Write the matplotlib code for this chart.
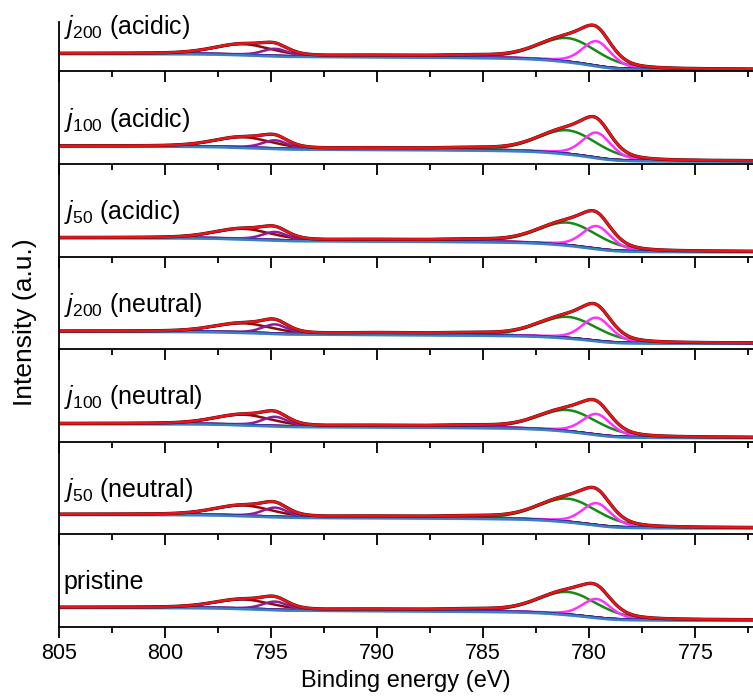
import numpy as np
import matplotlib
matplotlib.use("Agg")
import matplotlib.pyplot as plt
from matplotlib.ticker import MultipleLocator

plt.rcParams['font.family'] = ['Liberation Sans', 'DejaVu Sans']
plt.rcParams['mathtext.fontset'] = 'custom'
plt.rcParams['mathtext.rm'] = 'Liberation Sans'
plt.rcParams['mathtext.it'] = 'Liberation Sans:italic'

# panels from top to bottom
labels = [r'$j_{200}$ (acidic)', r'$j_{100}$ (acidic)', r'$j_{50}$ (acidic)',
          r'$j_{200}$ (neutral)', r'$j_{100}$ (neutral)', r'$j_{50}$ (neutral)',
          'pristine']

# fitted components: centre (eV), fwhm (eV)
green_pos, green_fwhm = 781.0, 3.3
magenta_pos, magenta_fwhm = 779.65, 1.6
darkred_pos, darkred_fwhm = 796.3, 3.2
purple_pos, purple_fwhm = 794.8, 1.4
sat1_pos, sat1_fwhm = 785.5, 3.0
sat2_pos, sat2_fwhm = 789.5, 5.0

# peak heights above background (a.u.), one value per panel
green_amp = [23.5, 23.5, 22.5, 21.0, 21.0, 23.0, 22.5]
magenta_amp = [24.5, 25.0, 22.5, 23.0, 20.5, 21.8, 18.5]
darkred_amp = [10.5, 10.0, 10.0, 9.0, 10.0, 10.0, 9.0]
purple_amp = [7.0, 8.0, 8.0, 9.0, 9.0, 9.0, 8.0]
sat1_amp = [1.5, 1.5, 1.5, 1.5, 1.5, 1.5, 1.5]
sat2_amp = [1.2, 1.2, 1.2, 1.5, 1.2, 1.2, 1.2]

# Shirley background: low-BE level and step heights
bg_low = [2.0, 3.0, 5.0, 6.0, 4.3, 6.6, 7.0]
step_main = [12.5, 11.5, 10.5, 8.5, 10.5, 10.0, 9.2]
step_sub = [3.5, 3.5, 3.5, 3.5, 3.5, 3.5, 3.5]

energy = np.linspace(772.0, 805.0, 1200)


def pvoigt(x, c, h, w, eta=0.3):
    g = np.exp(-4 * np.log(2) * ((x - c) / w) ** 2)
    l = 1 / (1 + 4 * ((x - c) / w) ** 2)
    return h * ((1 - eta) * g + eta * l)


def shirley(parts, step):
    s = np.cumsum(sum(parts))
    return step * s / s[-1]


W, H = 753, 698
left_px = 58.8
bottom0 = 627.0
panel_h = 92.6
top_px = 22.0

fig = plt.figure(figsize=(W / 100, H / 100), dpi=100)

n = len(labels)
for i in range(n):
    bot = bottom0 - (n - 1 - i) * panel_h
    top = bot - panel_h if i > 0 else top_px
    h = bot - top
    ax = fig.add_axes([left_px / W, 1 - bot / H, (W - left_px) / W, h / H])
    ax.set_facecolor('none')

    g = pvoigt(energy, green_pos, green_amp[i], green_fwhm)
    m = pvoigt(energy, magenta_pos, magenta_amp[i], magenta_fwhm)
    s1 = pvoigt(energy, sat1_pos, sat1_amp[i], sat1_fwhm)
    dr = pvoigt(energy, darkred_pos, darkred_amp[i], darkred_fwhm)
    p = pvoigt(energy, purple_pos, purple_amp[i], purple_fwhm)
    s2 = pvoigt(energy, sat2_pos, sat2_amp[i], sat2_fwhm)

    bg = bg_low[i] + shirley([g, m, s1], step_main[i]) + shirley([dr, p, s2], step_sub[i])
    total = bg + g + m + s1 + dr + p + s2

    # components first, background on top of their tails, envelope last
    ax.plot(energy, bg + s2, color='#5a1f80', lw=1.6)
    ax.plot(energy, bg + s1, color='#8b1010', lw=1.6)
    ax.plot(energy, bg + dr, color='#8b0a0a', lw=1.8)
    ax.plot(energy, bg + p, color='#8e1c96', lw=1.8)
    ax.plot(energy, bg + g, color='#158a15', lw=1.8)
    ax.plot(energy, bg + m, color='#ff30ff', lw=1.8)
    ax.plot(energy, bg - 1.2, color='#9fd0ea', lw=1.2)
    ax.plot(energy, bg, color='#1c1c8c', lw=1.8)
    ax.plot(energy, bg - 0.6, color='#3f7fbf', lw=1.8)
    ax.plot(energy, total, color='#2a1010', lw=2.4)
    ax.plot(energy, total, color='#e8141a', lw=1.9)

    ax.set_xlim(805, 805 - (W - left_px) / 21.22)
    ax.set_ylim(0, h)
    ax.set_yticks([])
    ax.spines['top'].set_visible(False)
    ax.spines['right'].set_visible(False)
    for sp in ('left', 'bottom'):
        ax.spines[sp].set_linewidth(1.3)
    ax.xaxis.set_major_locator(MultipleLocator(5))
    ax.xaxis.set_minor_locator(MultipleLocator(2.5))
    ax.tick_params(axis='x', which='major', direction='out', length=7.7, width=1.3,
                   labelsize=15.5, pad=4)
    ax.tick_params(axis='x', which='minor', direction='out', length=4.3, width=1.3)
    if i < n - 1:
        ax.tick_params(axis='x', labelbottom=False)
    else:
        ax.set_xlabel('Binding energy (eV)', fontsize=17, labelpad=4)

    ax.text(0.007, 37.5, labels[i], transform=ax.get_yaxis_transform(),
            fontsize=18, va='baseline', ha='left')

fig.text(25 / W, 1 - 322 / H, 'Intensity (a.u.)', rotation=90, fontsize=19,
         ha='center', va='center')

fig.savefig('out.png', dpi=100)
